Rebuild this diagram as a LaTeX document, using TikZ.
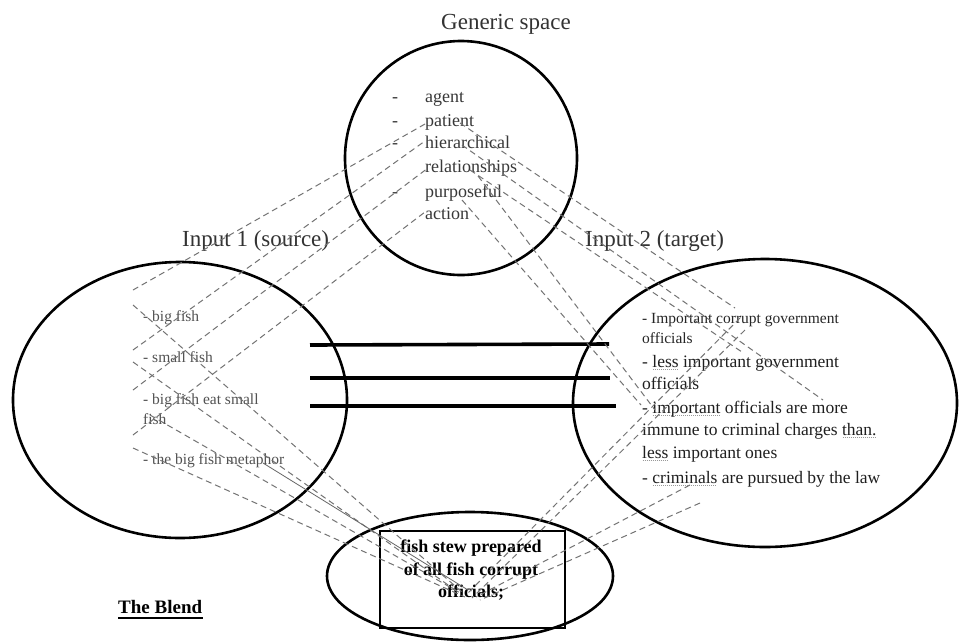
\documentclass[tikz,border=0pt]{standalone}
\usepackage{fontspec}
\setmainfont{Liberation Serif}
\usetikzlibrary{calc}

% spell-check style dotted underline under a word
\newsavebox\spellbox
\newcommand\spell[1]{\sbox\spellbox{#1}\rlap{\usebox\spellbox}\raisebox{-3pt}{\color{black!40}\leaders\hbox to 2pt{\hss\rule{1.1pt}{0.7pt}\hss}\hskip\wd\spellbox}}

\begin{document}
\begin{tikzpicture}[x=1pt,y=-1pt,
  frame/.style={line width=2.6pt,black},
  bar/.style={line width=3.6pt,black},
  link/.style={line width=1pt,black!55,dash pattern=on 6pt off 4pt},
  title/.style={font=\fontsize{23}{26}\selectfont,text=black!80,inner sep=0pt},
  gitem/.style={font=\fontsize{18}{21}\selectfont,text=black!78,inner sep=0pt,anchor=base west},
  sitem/.style={font=\fontsize{15.5}{18}\selectfont,text=black!68,inner sep=0pt,anchor=base west},
  titem/.style={font=\fontsize{17.5}{20}\selectfont,text=black!88,inner sep=0pt,anchor=base west},
  tsmall/.style={font=\fontsize{15.5}{18}\selectfont,text=black!85,inner sep=0pt,anchor=base west},
]
\useasboundingbox (0,0) rectangle (959,641);
\fill[white] (0,0) rectangle (959,641);

% ---- the four spaces ----
\draw[frame] (461,158) circle[x radius=116, y radius=117];
\draw[frame] (180,400) ellipse[x radius=167, y radius=138];
\draw[frame] (765,403) ellipse[x radius=192, y radius=144];
\draw[frame] (470,576) ellipse[x radius=143, y radius=64];
\draw[frame] (380,531) rectangle (565,628);

% ---- cross-space mapping bars ----
\coordinate (b1l) at (310,345); \coordinate (b1r) at (609,344);
\coordinate (b2l) at (310,378); \coordinate (b2r) at (610,378);
\coordinate (b3l) at (310,406); \coordinate (b3r) at (616,406);
\draw[bar] (b1l) -- (b1r);
\draw[bar] (b2l) -- (b2r);
\draw[bar] (b3l) -- (b3r);

% ---- titles ----
\node[title,anchor=base] (gtitle) at (506,29) {Generic space};
\node[title,anchor=base west] (in1) at (182,246) {Input 1 (source)};
\node[title,anchor=base west] (in2) at (585,246) {Input 2 (target)};

% ---- generic space items ----
\foreach \yy in {102,126,148,197} \node[gitem] at (392,\yy) {-};
\node[gitem] (g1) at (425,102) {agent};
\node[gitem] (g2) at (425,126) {patient};
\node[gitem] (g3) at (425,148) {hierarchical};
\node[gitem] (g4) at (425,172) {relationships};
\node[gitem] (g5) at (425,197) {purposeful};
\node[gitem] (g6) at (425,219) {action};

% ---- input 1 items ----
\node[sitem] (s1) at (143,321) {- big fish};
\node[sitem] (s2) at (143,362) {- small fish};
\node[sitem] (s3) at (143,404) {- big fish eat small};
\node[sitem] (s3b) at (143,424) {fish};
\node[sitem] (s4) at (143,464) {- the big fish metaphor};

% ---- input 2 items ----
\node[tsmall] (t1) at (642,323) {- Important corrupt government};
\node[tsmall] (t1b) at (642,343) {officials};
\node[titem] (t2) at (642,367) {- \spell{less} important government};
\node[titem] (t2b) at (642,389) {officials};
\node[titem] (t3) at (642,413) {- \spell{important} officials are more};
\node[titem] (t3b) at (642,435) {immune to criminal charges \spell{than.}};
\node[titem] (t3c) at (642,458) {\spell{less} important ones};
\node[titem] (t4) at (642,483) {- \spell{criminals} are pursued by the law};

% ---- blend ----
\node[font=\bfseries\fontsize{18}{22.5}\selectfont,align=center,inner sep=0pt,anchor=north] (bl)
  at (471,540) {fish stew prepared\\of all fish corrupt\\officials;};
\node[font=\bfseries\fontsize{19}{22}\selectfont,inner sep=0pt,anchor=base west] (blend) at (118,613) {The Blend};
\draw[line width=1.6pt] (blend.base west) ++(0,5) -- ++(85,0);

% ---- dashed correspondences: input 1 -> generic ----
\coordinate (a1s) at (133,290); \coordinate (a1e) at (425,124);
\coordinate (a2s) at (133,350); \coordinate (a2e) at (425,141);
\coordinate (a3s) at (133,390); \coordinate (a3e) at (428,168);
\coordinate (a4s) at (133,435); \coordinate (a4e) at (425,212);
\draw[link] (a1s) -- (a1e);
\draw[link] (a2s) -- (a2e);
\draw[link] (a3s) -- (a3e);
\draw[link] (a4s) -- (a4e);

% ---- input 1 -> blend ----
\coordinate (d1s) at (133,305); \coordinate (d1e) at (462,592);
\coordinate (d2s) at (133,362); \coordinate (d2e) at (458,592);
\coordinate (d3s) at (150,415); \coordinate (d3e) at (462,594);
\coordinate (d4s) at (133,448); \coordinate (d4e) at (465,597);
\coordinate (m1s) at (263,463); \coordinate (m1e) at (468,590);
\draw[link] (d1s) -- (d1e);
\draw[link] (d2s) -- (d2e);
\draw[link] (d3s) -- (d3e);
\draw[link] (d4s) -- (d4e);
\draw[line width=0.8pt,black!60] (m1s) -- (m1e);

% ---- generic -> input 2 ----
\coordinate (c1s) at (460,123); \coordinate (c1e) at (735,308);
\coordinate (c2s) at (462,145); \coordinate (c2e) at (823,400);
\coordinate (c3s) at (470,170); \coordinate (c3e) at (742,352);
\coordinate (c4s) at (478,176); \coordinate (c4e) at (655,410);
\coordinate (c5s) at (462,200); \coordinate (c5e) at (641,405);
\draw[link] (c1s) -- (c1e);
\draw[link] (c2s) -- (c2e);
\draw[link] (c3s) -- (c3e);
\draw[link] (c4s) -- (c4e);
\draw[link] (c5s) -- (c5e);

% ---- input 2 -> blend ----
\coordinate (e1s) at (740,318); \coordinate (e1e) at (466,595);
\coordinate (e2s) at (745,330); \coordinate (e2e) at (472,598);
\coordinate (e4s) at (690,485); \coordinate (e4e) at (476,597);
\coordinate (e5s) at (700,503); \coordinate (e5e) at (480,600);
\draw[link] (e1s) -- (e1e);
\draw[link] (e2s) -- (e2e);
\draw[link] (e4s) -- (e4e);
\draw[link] (e5s) -- (e5e);
\end{tikzpicture}
\end{document}
